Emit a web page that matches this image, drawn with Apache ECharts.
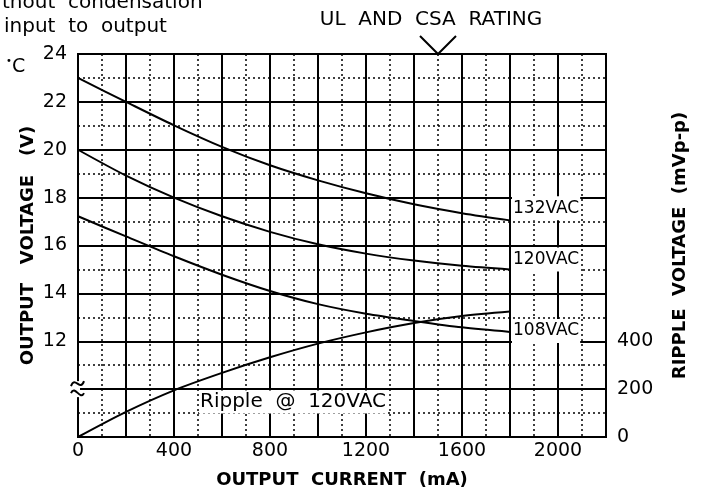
<!DOCTYPE html>
<html>
<head>
<meta charset="utf-8">
<script src="https://cdn.jsdelivr.net/npm/echarts@6/dist/echarts.min.js"></script>
<style>
html, body { margin: 0; padding: 0; background: #fff; }
#chart { width: 701px; height: 494px; }
</style>
</head>
<body>
<div id="chart"></div>
<script>
// output current (mA)
var current = [0, 200, 400, 600, 800, 1000, 1200, 1400, 1600, 1800];
// output voltage (V) per input line
var v132 = [23.0, 22.0, 21.02, 20.12, 19.35, 18.72, 18.18, 17.72, 17.35, 17.05];
var v120 = [20.0, 18.92, 18.0, 17.22, 16.57, 16.05, 15.66, 15.37, 15.15, 15.0];
var v108 = [17.22, 16.38, 15.55, 14.78, 14.1, 13.55, 13.15, 12.85, 12.58, 12.39];
// ripple @ 120VAC (mVp-p)
var ripple = [0, 105, 195, 268, 333, 390, 437, 476, 505, 524];

var xTicks = [0, 400, 800, 1200, 1600, 2000];
var voltTicks = [12, 14, 16, 18, 20, 22, 24];
var rippleTicks = [0, 200, 400];
var ulRating = 1500;

var FONT = 'DejaVu Sans';

function pairs(ys) {
    return current.map(function (x, i) { return [x, ys[i]]; });
}

var chart = echarts.init(document.getElementById('chart'));

function lineSeries(name, ys, dy) {
    return {
        name: name,
        type: 'line',
        data: pairs(ys),
        symbol: 'none',
        smooth: 0.3,
        lineStyle: { color: '#000', width: 2 },
        endLabel: {
            show: true,
            formatter: name,
            distance: 2,
            offset: [0, dy],
            fontFamily: FONT,
            fontSize: 17,
            color: '#000',
            backgroundColor: '#fff',
            padding: [4, 1, 3, 1]
        }
    };
}

var nameStyle = { fontFamily: FONT, fontSize: 18, fontWeight: 'bold', color: '#000' };

var option = {
    animation: false,
    backgroundColor: '#fff',
    grid: {
        left: 78, top: 54, width: 528, height: 384,
        show: true, borderColor: '#000', borderWidth: 2
    },
    xAxis: {
        type: 'value',
        min: 0, max: 2200, interval: 200,
        name: 'OUTPUT  CURRENT  (mA)',
        nameLocation: 'middle',
        nameGap: 34,
        nameMoveOverlap: false,
        nameTextStyle: nameStyle,
        axisLine: { show: true, lineStyle: { color: '#000', width: 2 } },
        axisTick: { show: false },
        minorTick: { show: false, splitNumber: 2 },
        axisLabel: {
            fontFamily: FONT, fontSize: 19, color: '#000', margin: 5,
            formatter: function (v) { return xTicks.indexOf(v) >= 0 ? String(v) : ''; }
        },
        splitLine: { show: true, lineStyle: { color: '#000', width: 2 } },
        minorSplitLine: { show: true, lineStyle: { color: '#000', width: 1.5, type: [2, 3] } }
    },
    yAxis: [{
        type: 'value',
        min: 8, max: 24, interval: 2,
        name: 'OUTPUT   VOLTAGE   (V)',
        nameLocation: 'middle',
        nameGap: 41,
        nameMoveOverlap: false,
        nameTextStyle: nameStyle,
        axisLine: { show: true, lineStyle: { color: '#000', width: 2 } },
        axisTick: { show: false },
        minorTick: { show: false, splitNumber: 2 },
        axisLabel: {
            fontFamily: FONT, fontSize: 19, color: '#000', margin: 11,
            formatter: function (v) { return voltTicks.indexOf(v) >= 0 ? String(v) : ''; }
        },
        splitLine: { show: true, lineStyle: { color: '#000', width: 2 } },
        minorSplitLine: { show: true, lineStyle: { color: '#000', width: 1.5, type: [2, 3] } }
    }, {
        type: 'value',
        position: 'right',
        min: 0, max: 1600, interval: 200,
        name: 'RIPPLE  VOLTAGE  (mVp-p)',
        nameLocation: 'middle',
        nameGap: 65,
        nameMoveOverlap: false,
        nameTextStyle: nameStyle,
        axisLine: { show: true, lineStyle: { color: '#000', width: 2 } },
        axisTick: { show: false },
        axisLabel: {
            fontFamily: FONT, fontSize: 19, color: '#000', margin: 11,
            formatter: function (v) { return rippleTicks.indexOf(v) >= 0 ? String(v) : ''; }
        },
        splitLine: { show: false }
    }],
    series: [
        lineSeries('132VAC', v132, -12),
        lineSeries('120VAC', v120, -10),
        lineSeries('108VAC', v108, -1),
        {
            name: 'Ripple',
            type: 'line',
            yAxisIndex: 1,
            data: pairs(ripple),
            symbol: 'none',
            smooth: 0.3,
            lineStyle: { color: '#000', width: 2 }
        }
    ]
};
chart.setOption(option);

// annotations placed from the axes
var brk = chart.convertToPixel({ xAxisIndex: 0, yAxisIndex: 0 }, [0, 10]);
var ul = chart.convertToPixel({ xAxisIndex: 0, yAxisIndex: 0 }, [ulRating, 24]);
var bx = brk[0], by = brk[1];

function txt(text, x, y, size, extra) {
    var style = {
        text: text, x: x, y: y,
        fontFamily: FONT, fontSize: size, fill: '#000',
        align: 'left', verticalAlign: 'middle'
    };
    for (var k in extra) style[k] = extra[k];
    return { type: 'text', z: 100, style: style };
}

chart.setOption({
    graphic: [
        txt('thout  condensation', 2, 3, 20),
        txt('input  to  output', 4, 27, 20),
        txt('UL  AND  CSA  RATING', 431, 20, 20, { align: 'center' }),
        txt('•', 6, 61, 10),
        txt('C', 12, 67, 19),
        txt('Ripple  @  120VAC', 199, 402, 20, { backgroundColor: '#fff', padding: [2, 1, 1, 1] }),
        {
            type: 'polyline', z: 100,
            shape: { points: [[ul[0] - 18, ul[1] - 18], [ul[0], ul[1]], [ul[0] + 18, ul[1] - 18]] },
            style: { stroke: '#000', lineWidth: 2, fill: null }
        },
        {
            type: 'rect', z: 99,
            shape: { x: bx - 3, y: by - 8, width: 5, height: 16 },
            style: { fill: '#fff' }
        },
        {
            type: 'bezierCurve', z: 100,
            shape: { x1: bx - 7, y1: by - 3, cpx1: bx - 3, cpy1: by - 14, cpx2: bx + 2, cpy2: by + 3, x2: bx + 6, y2: by - 8 },
            style: { stroke: '#000', lineWidth: 2, fill: null }
        },
        {
            type: 'bezierCurve', z: 100,
            shape: { x1: bx - 7, y1: by + 4, cpx1: bx - 3, cpy1: by - 5, cpx2: bx + 2, cpy2: by + 12, x2: bx + 6, y2: by + 4 },
            style: { stroke: '#000', lineWidth: 2, fill: null }
        }
    ]
});

window.addEventListener('resize', function () {
    chart.resize();
});
</script>
</body>
</html>
